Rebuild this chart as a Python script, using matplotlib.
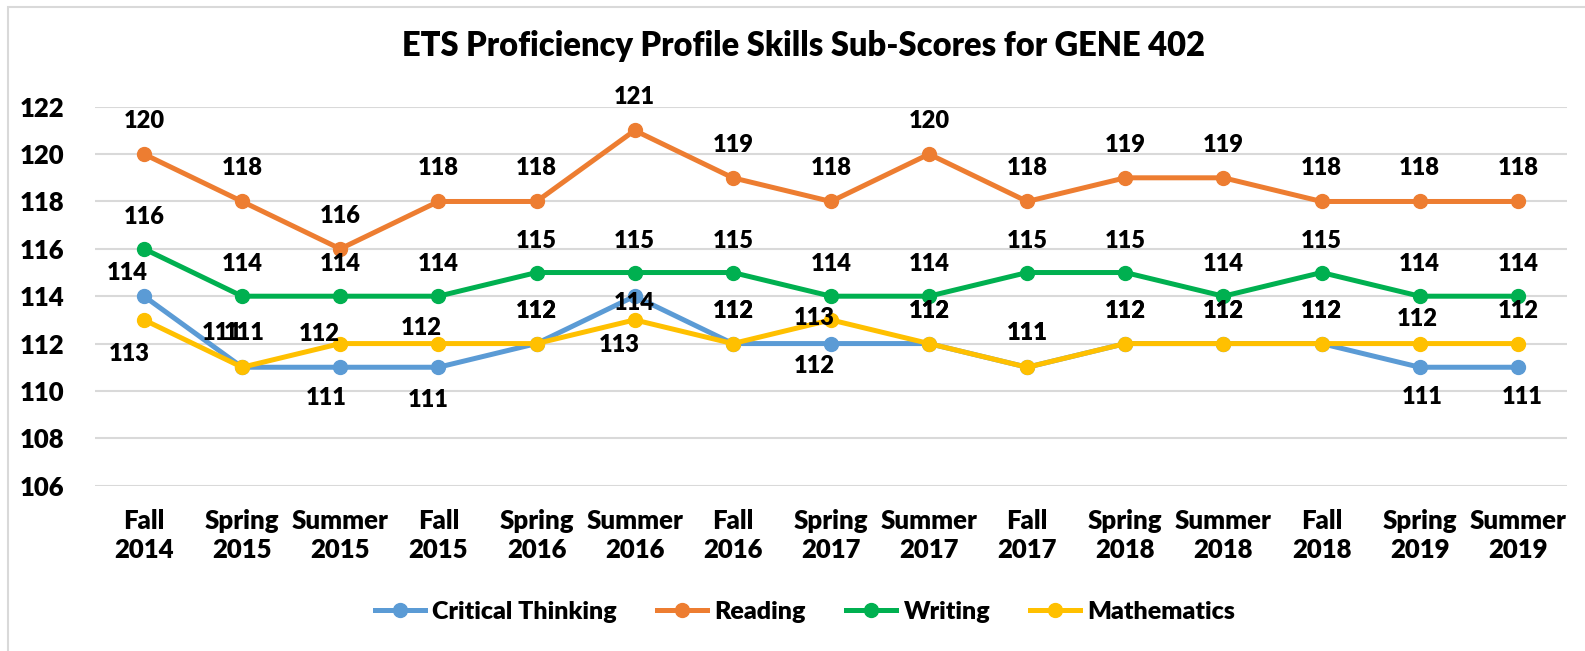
import numpy as np
import matplotlib.pyplot as plt
from matplotlib.patches import Rectangle

plt.rcParams['font.family'] = ['Lato', 'DejaVu Sans']
plt.rcParams['font.weight'] = 'heavy'

#data
terms = ['Fall\n2014', 'Spring\n2015', 'Summer\n2015', 'Fall\n2015', 'Spring\n2016',
         'Summer\n2016', 'Fall\n2016', 'Spring\n2017', 'Summer\n2017', 'Fall\n2017',
         'Spring\n2018', 'Summer\n2018', 'Fall\n2018', 'Spring\n2019', 'Summer\n2019']
critical = [114, 111, 111, 111, 112, 114, 112, 112, 112, 111, 112, 112, 112, 111, 111]
reading = [120, 118, 116, 118, 118, 121, 119, 118, 120, 118, 119, 119, 118, 118, 118]
writing = [116, 114, 114, 114, 115, 115, 115, 114, 114, 115, 115, 114, 115, 114, 114]
maths = [113, 111, 112, 112, 112, 113, 112, 113, 112, 111, 112, 112, 112, 112, 112]

#label offsets in pixels (dx, dy up)
up = (0, 33)
off_ct = [(-17, 23), (-20, 34), (-14, -31), (-10, -33), up, (0, -7), up, (-17, -22),
          up, (0, 34), up, up, up, (3, -30), (4, -30)]
off_math = [(-15, -34), (2, 34), (-21, 10), (-17, 16), up, (-15, -25), up, (-17, 2),
            up, (0, 34), up, up, up, (-2, 25), up]
off_read = [up] * 15
off_write = [(0, 32)] * 15

series = [('Critical Thinking', critical, '#5B9BD5', off_ct),
          ('Reading', reading, '#ED7D31', off_read),
          ('Writing', writing, '#00B050', off_write),
          ('Mathematics', maths, '#FFC000', off_math)]

fig = plt.figure(figsize=(15.85, 6.51), dpi=100)
ax = fig.add_axes([0.0599, 0.254, 0.9287, 0.582])
x = np.arange(len(terms))

for name, vals, col, offs in series:
    ax.plot(x, vals, color=col, lw=3.6, marker='o', ms=10, label=name, zorder=3)
    for xi, v, (dx, dy) in zip(x, vals, offs):
        ax.annotate(str(v), (xi, v), xytext=(dx, dy), textcoords='offset pixels',
                    ha='center', va='center', fontsize=17, fontweight='heavy',
                    color='black', zorder=5)

ax.set_xlim(-0.5, len(terms) - 0.5)
ax.set_ylim(106, 122)
ax.set_yticks(np.arange(106, 123, 2))
ax.set_xticks(x)
ax.set_xticklabels(terms, linespacing=1.25)
ax.tick_params(length=0, labelsize=18.5)
ax.tick_params(axis='x', pad=17)
ax.tick_params(axis='y', pad=22)
for s in ax.spines.values():
    s.set_visible(False)
ax.grid(axis='y', color='#D9D9D9', lw=1.5, zorder=0)

fig.text(0.507, 0.93, 'ETS Proficiency Profile Skills Sub-Scores for GENE 402',
         ha='center', va='center', fontsize=23.5, fontweight='heavy')

fig.legend(loc='center', bbox_to_anchor=(0.508, 0.06), ncol=4, frameon=False,
           fontsize=18, handlelength=2.0, columnspacing=1.6, handletextpad=0.3)

fig.patches.append(Rectangle((8 / 1585, -0.1), 1.2, 1 - 7 / 651 + 0.1,
                             transform=fig.transFigure, fill=False,
                             edgecolor='#D9D9D9', lw=1.5))

plt.savefig('out.png', dpi=100)
